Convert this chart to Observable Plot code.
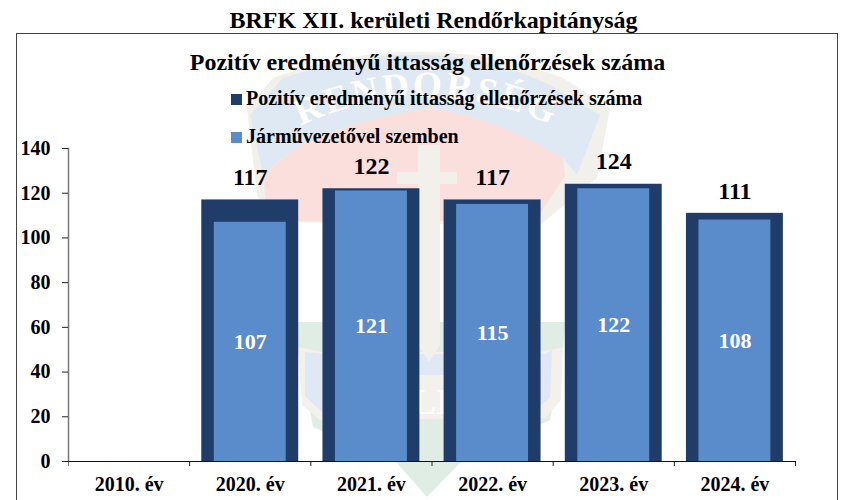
<!DOCTYPE html>
<html><head><meta charset="utf-8">
<script src="https://cdn.jsdelivr.net/npm/d3@7"></script>
<script src="https://cdn.jsdelivr.net/npm/@observablehq/plot@0.6"></script>
<style>
html,body{margin:0;padding:0;background:#fff;overflow:hidden}
#page{position:relative;width:841px;height:500px;overflow:hidden;font-family:"Liberation Serif",serif;font-weight:bold;color:#000}
#head{position:absolute;left:0;top:6px;width:867px;text-align:center;font-size:24px;line-height:28px;white-space:nowrap}
#frame{position:absolute;left:16px;top:33px;width:820px;height:480px;border:1px solid #444;box-sizing:content-box}
#wm{position:absolute;left:0;top:0}
#chart{position:absolute;left:0;top:33px}
#chart svg{background:transparent}
#title{position:absolute;left:0;top:48px;width:855px;text-align:center;font-size:24px;line-height:28px;white-space:nowrap}
.lg{position:absolute;left:231px;font-size:20px;line-height:22px;white-space:nowrap}
.lg i{display:inline-block;width:11px;height:11px;margin-right:4px}
</style></head><body>
<div id="page">
<div id="head">BRFK XII. kerületi Rendőrkapitányság</div>
<div id="frame"></div>
<svg id="wm" width="841" height="500">
<defs><path id="arc" d="M296 128 Q425 66 558 128"/></defs>
<path d="M273 78 Q420 25 563 78 L610 108 L597 178 L540 225 L268 222 L257 195 L247 108Z" fill="#f2f0eb"/>
<path d="M263 176 L290 152 Q330 125 430 108 Q497 118 563 158 L565 176 L535 221 L268 221Z" fill="#fbdfdd"/>
<path d="M283 78 Q430 28 550 85 L600 115 L577 175 L563 158 Q497 118 430 108 Q330 125 290 152 L263 175 L250 115Z" fill="#dfe9f3"/>
<path d="M298 322 L565 322 L563 350 L550 420 L460 463 L427 497 L397 463 L313 427 L298 350Z" fill="#dfede5"/>
<path d="M298 347 L323 352 L540 352 L563 347 L561 400 L545 418 L320 420 L302 405Z" fill="#f2f1ec"/>
<path d="M305 352 L323 354 L545 354 L552 350 L550 398 L535 410 L322 412 L305 396Z" fill="#dfe8f3"/>
<path d="M418 145 L440 145 L440 345 L429 362 L418 345Z" fill="#f2f0eb"/>
<path d="M397 172 L457 172 L457 184 L397 184Z" fill="#f2f0eb"/>
<path d="M418 375 L445 375 L445 415 L418 415Z" fill="#f2f1ec"/>
<text font-family="Liberation Serif" font-size="37" letter-spacing="3" fill="#fff" text-anchor="middle"><textPath href="#arc" startOffset="50%">RENDŐRSÉG</textPath></text>
<text x="431" y="414" text-anchor="middle" font-family="Liberation Serif" font-size="36" fill="#fff">LI</text>
</svg>
<div id="chart"></div>
<div id="title">Pozitív eredményű ittasság ellenőrzések száma</div>
<div class="lg" style="top:87px"><i style="background:#1f3d68"></i>Pozitív eredményű ittasság ellenőrzések száma</div>
<div class="lg" style="top:125px"><i style="background:#5a8bcb"></i>Járművezetővel szemben</div>
</div>
<script>
const years = ["2010. év","2020. év","2021. év","2022. év","2023. év","2024. év"];
const positive = [null,117,122,117,124,111];
const driver = [null,107,121,115,122,108];
const tickValues = [0,20,40,60,80,100,120,140];
const rows = years.map((y,i)=>({y,p:positive[i],d:driver[i]})).filter(r=>r.p!=null);
const step = 727/years.length;
const chart = Plot.plot({
  width:841,height:467,marginLeft:68,marginRight:46,marginTop:115,marginBottom:39,
  style:{fontFamily:"Liberation Serif",fontWeight:"bold",background:"transparent",overflow:"visible"},
  x:{domain:years,paddingInner:0.2,paddingOuter:0.1,round:false,label:null},
  y:{domain:[0,140],label:null},
  marks:[
    Plot.barY(rows,{x:"y",y:"p",fill:"#1f3d68"}),
    Plot.barY(rows,{x:"y",y:"d",fill:"#5a8bcb",insetLeft:12.5,insetRight:12.5}),
    Plot.text(rows,{x:"y",y:"p",text:"p",dy:-22.5,fontSize:24,fill:"#000"}),
    Plot.text(rows,{x:"y",y:d=>d.d/2,text:"d",fontSize:22,fill:"#fff"}),
    Plot.frame({anchor:"left",stroke:"#777",strokeWidth:1.5}),
    Plot.axisY({ticks:tickValues,tickSize:6,tickPadding:12,fontSize:20,label:null,stroke:"#222"}),
    Plot.axisX({tickFormat:null,tickSize:5,dx:step/2,label:null,stroke:"#222"}),
    Plot.axisX({ticks:[years[0]],tickFormat:null,tickSize:5,dx:-step/2,label:null,stroke:"#777"}),
    Plot.axisX({tickSize:0,tickPadding:15,fontSize:20,label:null,fill:"#000"}),
    Plot.frame({anchor:"bottom",stroke:"#111",strokeWidth:1.2})
  ]
});
document.getElementById("chart").appendChild(chart);
</script>
</body></html>
